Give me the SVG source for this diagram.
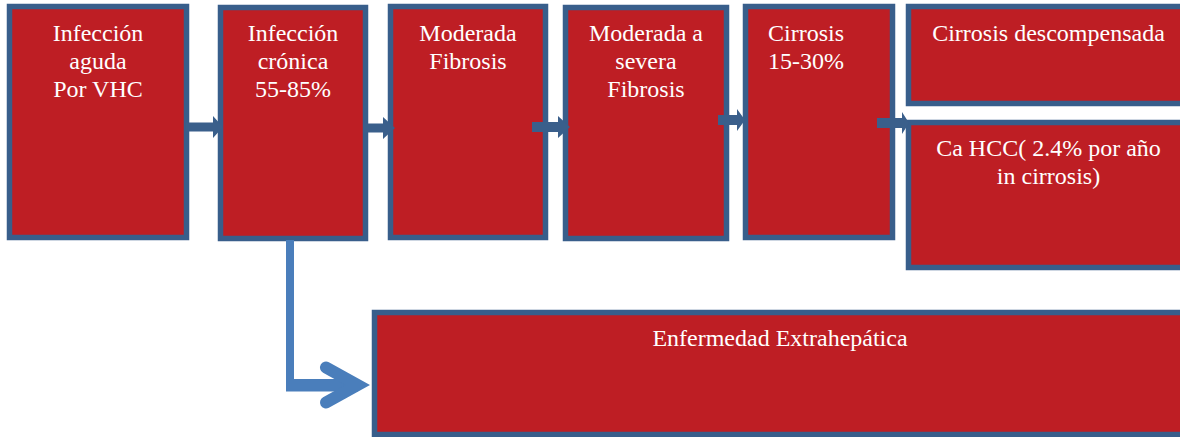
<svg xmlns="http://www.w3.org/2000/svg" width="1180" height="437" viewBox="0 0 1180 437">
<style>
.box{fill:#be1e24;stroke:#385e8b;stroke-width:5.5}
.t{font-family:"Liberation Serif","Times New Roman",serif;font-size:24px;fill:#ffffff;text-anchor:middle}
.ts{text-anchor:start}
.blk{fill:#3a5f8b}
.bent{fill:#4a7ebb}
</style>
<rect width="1180" height="437" fill="#ffffff"/>
<g id="n1"><rect class="box" x="9.5" y="6.5" width="177" height="231"/>
<text class="t" x="98" y="41">Infección</text><text class="t" x="98" y="69">aguda</text><text class="t" x="98" y="97">Por VHC</text></g>
<g id="n2"><rect class="box" x="220.5" y="7.5" width="145" height="231"/>
<text class="t" x="293" y="41">Infección</text><text class="t" x="293" y="69">crónica</text><text class="t" x="293" y="97">55-85%</text></g>
<g id="n3"><rect class="box" x="390.5" y="6.5" width="155" height="231"/>
<text class="t" x="468" y="41">Moderada</text><text class="t" x="468" y="69">Fibrosis</text></g>
<g id="n4"><rect class="box" x="565.5" y="7.5" width="161" height="231"/>
<text class="t" x="646" y="41">Moderada a</text><text class="t" x="646" y="69">severa</text><text class="t" x="646" y="97">Fibrosis</text></g>
<g id="n5"><rect class="box" x="745.5" y="6.5" width="147" height="231"/>
<text class="t ts" x="768" y="41">Cirrosis</text><text class="t ts" x="768" y="69">15-30%</text></g>
<g id="n6"><rect class="box" x="908.5" y="6.5" width="282" height="97"/>
<text class="t" x="1048.5" y="41">Cirrosis descompensada</text></g>
<g id="n7"><rect class="box" x="908.5" y="122.5" width="282" height="145"/>
<text class="t" x="1048.5" y="156">Ca HCC( 2.4% por año</text><text class="t" x="1048.5" y="184">in cirrosis)</text></g>
<g id="n8"><rect class="box" x="374.5" y="312.5" width="816" height="122"/>
<text class="t" x="780" y="346">Enfermedad Extrahepática</text></g>
<g id="connectors">
<polygon class="blk" points="186,122.5 213,122.5 213,116 223,127 213,138 213,131.5 186,131.5"/>
<polygon class="blk" points="363,123.5 383,123.5 383,117 395,128 383,139 383,132.5 363,132.5"/>
<polygon class="blk" points="532,122 558,122 558,116 570,127 558,138 558,132 532,132"/>
<polygon class="blk" points="718,115 737,115 737,109 745,120 737,131 737,125 718,125"/>
<polygon class="blk" points="877,118 902,118 902,112 909,123 902,134 902,128 877,128"/>
<rect class="bent" x="286" y="240" width="8" height="140"/>
<rect class="bent" x="286" y="379" width="72" height="12.5"/>
<path d="M326,367.5 L357.6,385 L326,402.5" fill="none" stroke="#4a7ebb" stroke-width="12" stroke-linecap="round" stroke-linejoin="miter" stroke-miterlimit="10"/>
</g>
</svg>
